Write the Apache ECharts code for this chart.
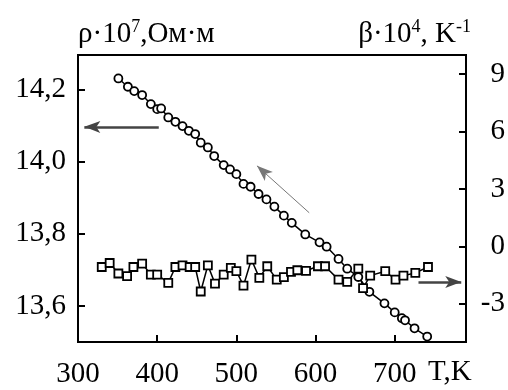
<!DOCTYPE html>
<html>
<head>
<meta charset="utf-8">
<script src="https://cdn.jsdelivr.net/npm/echarts@6/dist/echarts.min.js"></script>
<style>
  html, body { margin: 0; padding: 0; background: #fff; }
  #chart { width: 508px; height: 390px; }
</style>
</head>
<body>
<div id="chart"></div>
<script>
// resistivity (rho * 1e7, Ohm*m) vs T
const rhoT = [351, 363, 371, 381, 392, 400, 405, 414, 423, 432, 440, 448, 455, 464, 472, 484, 492, 500,
  509, 518, 528, 538, 548, 560, 570, 587, 605, 614, 629, 640, 654, 668, 687, 700, 709, 713, 725, 741];
const rhoValues = [14.230, 14.207, 14.195, 14.184, 14.159, 14.145, 14.147, 14.122, 14.110, 14.098, 14.085,
  14.076, 14.052, 14.039, 14.015, 13.990, 13.978, 13.965, 13.938, 13.930, 13.910, 13.895, 13.875, 13.850,
  13.830, 13.798, 13.776, 13.764, 13.730, 13.703, 13.680, 13.639, 13.607, 13.582, 13.566, 13.560, 13.538, 13.515];

// temperature coefficient (beta * 1e4, 1/K) vs T
const betaT = [330, 340, 351, 362, 370, 381, 392, 400, 414, 423, 432, 441, 448, 455, 464, 473, 484, 493,
  500, 509, 519, 529, 539, 551, 560, 569, 577, 588, 603, 612, 629, 640, 654, 660, 669, 688, 701, 711, 726, 742];
const betaValues = [-1.08, -0.87, -1.42, -1.56, -1.08, -0.90, -1.48, -1.48, -1.91, -1.08, -0.99, -1.08,
  -1.08, -2.36, -0.99, -1.95, -1.48, -1.13, -1.30, -2.05, -0.69, -1.65, -1.04, -1.74, -1.61, -1.34, -1.25,
  -1.28, -1.04, -1.04, -1.74, -1.86, -1.16, -2.18, -1.53, -1.30, -1.74, -1.53, -1.39, -1.08];

const tTicks = [300, 400, 500, 600, 700];
const rhoTicks = [13.6, 13.8, 14.0, 14.2];
const betaTicks = [-3, 0, 3, 6, 9];

// arrow annotations, in data units: [from, to]
const rhoArrows = [
  [[402, 14.095], [308, 14.096]],
  [[592, 13.858], [526, 13.988]]
];
const betaArrows = [
  [[730, -1.86], [784, -1.86]]
];

const FONT = 'Liberation Serif';
const FS = 29;
const chart = echarts.init(document.getElementById('chart'));

const axisBase = {
  axisLine: { show: true, onZero: false, lineStyle: { color: '#000', width: 2 } },
  splitLine: { show: false },
  axisTick: { show: true, inside: true, length: 7, lineStyle: { color: '#000', width: 2 } },
  axisLabel: { color: '#000', fontFamily: FONT, fontSize: FS }
};

const nameRich = {
  b: { fontFamily: FONT, fontSize: FS, color: '#000', lineHeight: 32 },
  sup: { fontFamily: FONT, fontSize: 18, color: '#000', verticalAlign: 'top', lineHeight: 20 }
};

const option = {
  animation: false,
  backgroundColor: '#fff',
  grid: { left: 78, right: 42, top: 55, bottom: 48, show: true, borderColor: '#000', borderWidth: 2 },
  xAxis: {
    type: 'value', min: 300, max: 790,
    ...axisBase,
    axisTick: { ...axisBase.axisTick, customValues: tTicks },
    axisLabel: { ...axisBase.axisLabel, customValues: tTicks, margin: 18 }
  },
  yAxis: [
    {
      type: 'value', min: 13.5, max: 14.295, position: 'left',
      ...axisBase,
      axisTick: { ...axisBase.axisTick, customValues: rhoTicks },
      axisLabel: {
        ...axisBase.axisLabel, customValues: rhoTicks, margin: 12,
        formatter: (v) => v.toFixed(1).replace('.', ',')
      },
      name: '{b|ρ·10}{sup|7}{b|,Ом·м}',
      nameLocation: 'end',
      nameGap: 5,
      nameTextStyle: { align: 'left', rich: nameRich }
    },
    {
      type: 'value', min: -5, max: 10, position: 'right',
      ...axisBase,
      axisTick: { ...axisBase.axisTick, customValues: betaTicks },
      axisLabel: { ...axisBase.axisLabel, customValues: betaTicks, margin: 39, align: 'right' },
      name: '{b|β·10}{sup|4}{b|, K}{sup|-1}',
      nameLocation: 'end',
      nameGap: 5,
      nameTextStyle: { align: 'right', padding: [0, -5, 0, 0], rich: nameRich }
    }
  ],
  graphic: [
    {
      type: 'text', left: 428, top: 358,
      style: { text: 'T,K', fill: '#000', font: FS + 'px "Liberation Serif"' }
    }
  ],
  series: [
    {
      name: 'rho',
      type: 'line',
      yAxisIndex: 0,
      data: rhoT.map((t, i) => [t, rhoValues[i]]),
      symbol: 'circle',
      symbolSize: 8,
      lineStyle: { color: '#000', width: 1.5 },
      itemStyle: { color: '#fff', borderColor: '#000', borderWidth: 1.8 },
      markLine: {
        silent: true,
        symbol: ['none', 'arrow'],
        symbolSize: [9, 16],
        label: { show: false },
        lineStyle: { color: '#444', width: 2.5, type: 'solid' },
        data: rhoArrows.map((a, i) => [
          { coord: a[0], lineStyle: i === 1 ? { color: '#777', width: 1 } : undefined },
          { coord: a[1] }
        ])
      }
    },
    {
      name: 'beta',
      type: 'line',
      yAxisIndex: 1,
      data: betaT.map((t, i) => [t, betaValues[i]]),
      symbol: 'rect',
      symbolSize: 8,
      lineStyle: { color: '#000', width: 1.5 },
      itemStyle: { color: '#fff', borderColor: '#000', borderWidth: 1.8 },
      markLine: {
        silent: true,
        symbol: ['none', 'arrow'],
        symbolSize: [9, 16],
        label: { show: false },
        lineStyle: { color: '#444', width: 2.5, type: 'solid' },
        data: betaArrows.map((a) => [{ coord: a[0] }, { coord: a[1] }])
      }
    }
  ]
};

chart.setOption(option);
</script>
</body>
</html>
